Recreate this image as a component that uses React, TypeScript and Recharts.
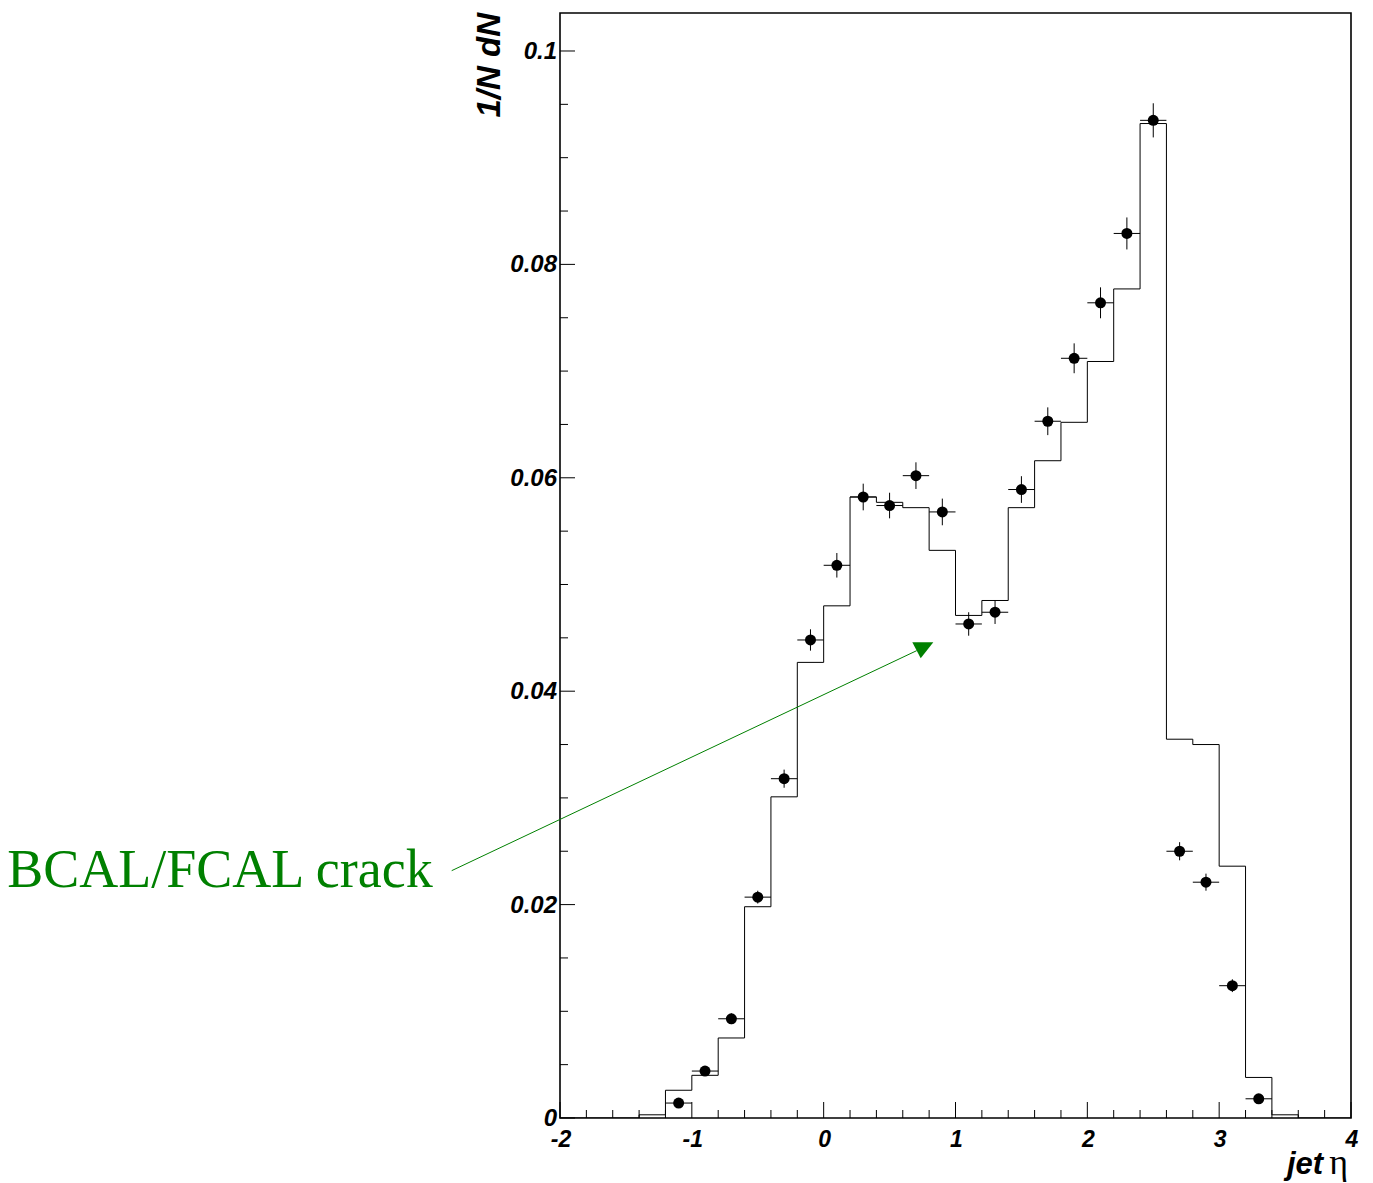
import {
  ComposedChart,
  Line,
  Scatter,
  ErrorBar,
  XAxis,
  YAxis,
  ReferenceArea,
  ReferenceLine,
  Label,
} from 'recharts';

// MC histogram: low edge of each 0.2-wide bin and its content
const mcBinLow = [
  -2.0, -1.8, -1.6, -1.4, -1.2, -1.0, -0.8, -0.6, -0.4, -0.2, 0.0, 0.2, 0.4, 0.6, 0.8,
  1.0, 1.2, 1.4, 1.6, 1.8, 2.0, 2.2, 2.4, 2.6, 2.8, 3.0, 3.2, 3.4, 3.6, 3.8,
];
const mcValues = [
  0, 0, 0, 0.0003, 0.0026, 0.004, 0.0075, 0.0198, 0.0301, 0.0427, 0.048, 0.0582, 0.0577,
  0.0572, 0.0532, 0.0471, 0.0485, 0.0572, 0.0616, 0.0652, 0.0709, 0.0777, 0.0932, 0.0355,
  0.035, 0.0236, 0.0038, 0.0003, 0, 0,
];
const X_MAX = 4;

// data points (bin centres) with statistical errors
const dataX = [
  -1.1, -0.9, -0.7, -0.5, -0.3, -0.1, 0.1, 0.3, 0.5, 0.7, 0.9, 1.1, 1.3, 1.5, 1.7, 1.9, 2.1,
  2.3, 2.5, 2.7, 2.9, 3.1, 3.3,
];
const dataY = [
  0.0014, 0.0044, 0.0093, 0.0207, 0.0318, 0.0448, 0.0518, 0.0582, 0.0574, 0.0602, 0.0568,
  0.0463, 0.0474, 0.0589, 0.0653, 0.0712, 0.0764, 0.0829, 0.0935, 0.025, 0.0221, 0.0124,
  0.0018,
];
const dataErr = [
  0.0002, 0.0003, 0.0005, 0.0006, 0.00085, 0.001, 0.00115, 0.00125, 0.0012, 0.00125,
  0.00125, 0.0011, 0.0011, 0.00125, 0.0013, 0.0014, 0.00145, 0.0015, 0.0016, 0.00085,
  0.0008, 0.0006, 0.0002,
];
const BIN_HALF = 0.1;

// axis ticks
const xMajorTicks = [-2, -1, 0, 1, 2, 3, 4];
const xMajorLabels = ['-2', '-1', '0', '1', '2', '3', '4'];
const xMinorTicks = [
  -1.8, -1.6, -1.4, -1.2, -0.8, -0.6, -0.4, -0.2, 0.2, 0.4, 0.6, 0.8, 1.2, 1.4, 1.6, 1.8,
  2.2, 2.4, 2.6, 2.8, 3.2, 3.4, 3.6, 3.8,
];
const yMajorTicks = [0, 0.02, 0.04, 0.06, 0.08, 0.1];
const yMajorLabels = ['0', '0.02', '0.04', '0.06', '0.08', '0.1'];
const yMinorTicks = [
  0.005, 0.01, 0.015, 0.025, 0.03, 0.035, 0.045, 0.05, 0.055, 0.065, 0.07, 0.075, 0.085,
  0.09, 0.095,
];
const Y_MAX = 0.10356;

// annotation arrow (data coords)
const crackLabel = 'BCAL/FCAL crack';
const crackFrom = { x: -2.8215, y: 0.02318 };
const crackTo = { x: 0.7058, y: 0.0438 };

const AXIS_FONT = '"Liberation Sans", Arial, Helvetica, sans-serif';
const SERIF_FONT = '"Liberation Serif", "Times New Roman", serif';
const GREEN = '#008000';

const histData = [
  ...mcBinLow.map((x, i) => ({ x, mc: mcValues[i] })),
  { x: X_MAX, mc: mcValues[mcValues.length - 1] },
];

const pointData = dataX.map((x, i) => ({ x, y: dataY[i], ey: dataErr[i], ex: BIN_HALF }));

const xTicks = [...xMajorTicks, ...xMinorTicks].sort((a, b) => a - b);
const yTicks = [...yMajorTicks, ...yMinorTicks].sort((a, b) => a - b);

function findIndex(list: number[], v: number) {
  return list.findIndex((t) => Math.abs(t - v) < 1e-9);
}

function XTick(props: any) {
  const { x, y, payload } = props;
  const idx = findIndex(xMajorTicks, payload.value);
  const len = idx >= 0 ? 16 : 8;
  return (
    <g>
      <line x1={x} y1={y} x2={x} y2={y - len} stroke="#000" strokeWidth={1} />
      {idx >= 0 && (
        <text
          x={x + 1}
          y={y + 29}
          textAnchor="middle"
          fontFamily={AXIS_FONT}
          fontWeight="bold"
          fontStyle="italic"
          fontSize={23}
          fill="#000"
        >
          {xMajorLabels[idx]}
        </text>
      )}
    </g>
  );
}

function YTick(props: any) {
  const { x, y, payload } = props;
  const idx = findIndex(yMajorTicks, payload.value);
  const len = idx >= 0 ? 15 : 8;
  return (
    <g>
      <line x1={x} y1={y} x2={x + len} y2={y} stroke="#000" strokeWidth={1} />
      {idx >= 0 && (
        <text
          x={x - 3}
          y={y + 8}
          textAnchor="end"
          fontFamily={AXIS_FONT}
          fontWeight="bold"
          fontStyle="italic"
          fontSize={24}
          fill="#000"
        >
          {yMajorLabels[idx]}
        </text>
      )}
    </g>
  );
}

function DataDot(props: any) {
  const { cx, cy } = props;
  if (cx == null || cy == null) return null;
  return <circle cx={cx} cy={cy} r={5.5} fill="#000" />;
}

// arrow line, odd downward-pointing head and the label text
function CrackArrow(props: any) {
  const { x1, y1, x2, y2 } = props;
  return (
    <g>
      <line x1={x1} y1={y1} x2={x2} y2={y2} stroke={GREEN} strokeWidth={1} />
      <polygon
        points={`${x2 - 4.4},${y2 - 8.4} ${x2 + 16.6},${y2 - 8.4} ${x2 + 4},${y2 + 7.6}`}
        fill={GREEN}
      />
      <text
        x={x1 - 19}
        y={y1 + 16}
        textAnchor="end"
        fontFamily={SERIF_FONT}
        fontSize={54}
        fill={GREEN}
      >
        {crackLabel}
      </text>
    </g>
  );
}

function YTitle(props: any) {
  const { viewBox } = props;
  const x = viewBox.x;
  const y = 13;
  return (
    <text
      x={x}
      y={y}
      transform={`rotate(-90 ${x} ${y})`}
      textAnchor="end"
      fontFamily={AXIS_FONT}
      fontWeight="bold"
      fontStyle="italic"
      fontSize={33}
      fill="#000"
    >
      1/N dN
    </text>
  );
}

function XTitle(props: any) {
  const { viewBox } = props;
  const x = viewBox.x + viewBox.width - 3;
  const y = viewBox.y + 56;
  return (
    <text x={x} y={y} textAnchor="end" fill="#000">
      <tspan fontFamily={AXIS_FONT} fontWeight="bold" fontStyle="italic" fontSize={31}>
        jet
      </tspan>
      <tspan fontFamily={SERIF_FONT} fontSize={36} dx={6}>
        η
      </tspan>
    </text>
  );
}

export default function App() {
  return (
    <div style={{ position: 'absolute', left: 0, top: 0, background: '#fff' }}>
      <ComposedChart
        width={1373}
        height={1183}
        margin={{ top: 13, right: 22, bottom: 25, left: 500 }}
      >
        <XAxis
          type="number"
          dataKey="x"
          domain={[-2, X_MAX]}
          allowDataOverflow
          ticks={xTicks}
          interval={0}
          tick={<XTick />}
          tickSize={0}
          tickMargin={0}
          tickLine={false}
          axisLine={false}
          height={40}
        >
          <Label content={<XTitle />} />
        </XAxis>
        <YAxis
          type="number"
          domain={[0, Y_MAX]}
          allowDataOverflow
          ticks={yTicks}
          interval={0}
          tick={<YTick />}
          tickSize={0}
          tickMargin={0}
          tickLine={false}
          axisLine={false}
          width={60}
        >
          <Label content={<YTitle />} />
        </YAxis>
        <ReferenceArea
          x1={-2}
          x2={X_MAX}
          y1={0}
          y2={Y_MAX}
          fill="none"
          stroke="#000"
          strokeWidth={1.6}
          ifOverflow="visible"
        />
        <Line
          data={histData}
          dataKey="mc"
          type="stepAfter"
          stroke="#000"
          strokeWidth={1}
          dot={false}
          activeDot={false}
          isAnimationActive={false}
        />
        <Scatter
          data={pointData}
          dataKey="y"
          shape={<DataDot />}
          isAnimationActive={false}
        >
          <ErrorBar dataKey="ex" direction="x" width={0} stroke="#000" strokeWidth={1} />
          <ErrorBar dataKey="ey" direction="y" width={0} stroke="#000" strokeWidth={1} />
        </Scatter>
        <ReferenceLine
          segment={[crackFrom, crackTo]}
          ifOverflow="visible"
          shape={<CrackArrow />}
        />
      </ComposedChart>
    </div>
  );
}
